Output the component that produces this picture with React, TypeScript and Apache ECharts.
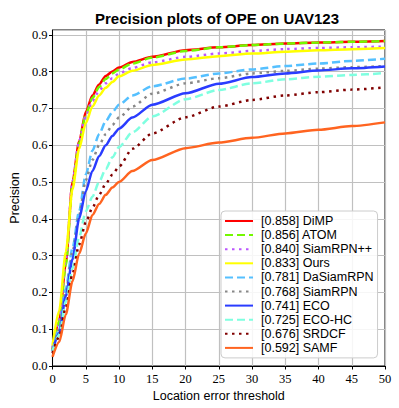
import React, { useEffect, useRef } from "react";
import * as echarts from "echarts";

const thresholds = [0, 1, 2, 3, 4, 5, 6, 7, 8, 9, 10, 12, 15, 20, 25, 30, 35, 40, 45, 50];

const trackerNames = ["DiMP", "ATOM", "SiamRPN++", "Ours", "DaSiamRPN", "SiamRPN", "ECO", "ECO-HC", "SRDCF", "SAMF"];
const trackerScores = [0.858, 0.856, 0.84, 0.833, 0.781, 0.768, 0.741, 0.725, 0.676, 0.592];

const dimp = [0.045, 0.12, 0.28, 0.5, 0.61, 0.69, 0.735, 0.765, 0.788, 0.8, 0.811, 0.826, 0.84, 0.858, 0.866, 0.872, 0.876, 0.879, 0.881, 0.883];
const atom = [0.045, 0.12, 0.275, 0.49, 0.605, 0.683, 0.728, 0.758, 0.78, 0.795, 0.806, 0.822, 0.838, 0.856, 0.866, 0.872, 0.876, 0.879, 0.881, 0.883];
const siamrpnpp = [0.05, 0.13, 0.29, 0.5, 0.61, 0.68, 0.72, 0.748, 0.768, 0.782, 0.795, 0.81, 0.825, 0.84, 0.849, 0.856, 0.861, 0.864, 0.866, 0.868];
const ours = [0.055, 0.15, 0.31, 0.48, 0.59, 0.66, 0.705, 0.735, 0.756, 0.772, 0.787, 0.802, 0.818, 0.833, 0.842, 0.849, 0.854, 0.858, 0.861, 0.864];
const dasiamrpn = [0.04, 0.1, 0.21, 0.32, 0.42, 0.52, 0.585, 0.63, 0.665, 0.69, 0.71, 0.735, 0.76, 0.781, 0.795, 0.806, 0.815, 0.822, 0.829, 0.835];
const siamrpn = [0.04, 0.1, 0.2, 0.31, 0.41, 0.505, 0.56, 0.6, 0.63, 0.655, 0.675, 0.705, 0.74, 0.768, 0.782, 0.795, 0.802, 0.808, 0.812, 0.815];
const eco = [0.04, 0.09, 0.19, 0.29, 0.4, 0.475, 0.53, 0.57, 0.6, 0.625, 0.645, 0.675, 0.71, 0.741, 0.767, 0.785, 0.795, 0.803, 0.809, 0.814];
const ecohc = [0.04, 0.085, 0.175, 0.265, 0.35, 0.42, 0.46, 0.5, 0.535, 0.567, 0.595, 0.635, 0.678, 0.725, 0.75, 0.768, 0.779, 0.786, 0.791, 0.796];
const srdcf = [0.035, 0.08, 0.16, 0.25, 0.33, 0.39, 0.43, 0.465, 0.495, 0.52, 0.542, 0.59, 0.632, 0.676, 0.705, 0.723, 0.735, 0.744, 0.751, 0.757];
const samf = [0.025, 0.065, 0.14, 0.23, 0.305, 0.36, 0.41, 0.44, 0.465, 0.485, 0.5, 0.53, 0.56, 0.592, 0.607, 0.62, 0.632, 0.642, 0.652, 0.662];

const seriesValues = [dimp, atom, siamrpnpp, ours, dasiamrpn, siamrpn, eco, ecohc, srdcf, samf];

const colors = ["#ff0000", "#74f800", "#bb55ff", "#ffff00", "#55c0ff", "#888888", "#2a3cff", "#7fffe0", "#800000", "#ff6420"];
const DASH = [8, 4];
const DOT = [2.5, 4.5];
const lineTypes: any[] = ["solid", DASH, DOT, "solid", DASH, DOT, "solid", DASH, DOT, "solid"];

const SANS = "Liberation Sans";
const SERIF = "Liberation Serif";

export default function App() {
  const ref = useRef<HTMLDivElement>(null);
  useEffect(() => {
    if (!ref.current) return;
    const chart = echarts.init(ref.current, undefined, { renderer: "svg" });
    const names = trackerNames.map((n, i) => `[${trackerScores[i].toFixed(3)}] ${n}`);
    const option: any = {
      animation: false,
      backgroundColor: "#ffffff",
      graphic: [
        {
          type: "text",
          x: 217,
          y: 18,
          style: {
            text: "Precision plots of OPE on UAV123",
            textAlign: "center",
            textVerticalAlign: "middle",
            font: `bold 15px "${SANS}"`,
            fill: "#000",
          },
        },
      ],
      grid: {
        left: 49,
        right: 14,
        top: 30,
        bottom: 42,
        show: true,
        borderColor: "#000",
        borderWidth: 1,
        backgroundColor: "transparent",
      },
      xAxis: {
        type: "value",
        min: 0,
        max: 50,
        interval: 5,
        name: "Location error threshold",
        nameLocation: "middle",
        nameGap: 23,
        nameTextStyle: { fontFamily: SANS, fontSize: 12.5, color: "#000" },
        axisLine: { show: true, lineStyle: { color: "#000", width: 1 } },
        axisTick: { show: true, inside: false, length: 3.5, lineStyle: { color: "#000" } },
        axisLabel: { fontFamily: SERIF, fontSize: 12.5, color: "#000", margin: 6 },
        splitLine: { show: true, lineStyle: { color: "#c0c0c0", width: 1.2 } },
      },
      yAxis: {
        type: "value",
        min: 0,
        max: 0.913,
        interval: 0.1,
        name: "Precision",
        nameLocation: "middle",
        nameGap: 31,
        nameTextStyle: { fontFamily: SANS, fontSize: 12.5, color: "#000" },
        axisLine: { show: true, lineStyle: { color: "#000", width: 1 } },
        axisTick: { show: true, inside: false, length: 3.5, lineStyle: { color: "#000" } },
        axisLabel: {
          fontFamily: SERIF,
          fontSize: 12.5,
          color: "#000",
          margin: 5,
          showMaxLabel: false,
          formatter: (v: number) => v.toFixed(1),
        },
        splitLine: { show: true, lineStyle: { color: "#c0c0c0", width: 1.2 } },
      },
      legend: {
        orient: "vertical",
        left: 221,
        top: 211,
        itemWidth: 28,
        itemHeight: 14,
        itemGap: 0.1,
        padding: [3, 4, 3, 3],
        backgroundColor: "rgba(255,255,255,0.85)",
        borderColor: "#cccccc",
        borderWidth: 1,
        borderRadius: 4,
        selectedMode: false,
        itemStyle: { opacity: 0, borderWidth: 0 },
        textStyle: { fontFamily: SANS, fontSize: 12.5, color: "#000", lineHeight: 14, padding: [0, 0, 0, 3] },
        data: names,
      },
      series: seriesValues.map((vals, i) => ({
        name: names[i],
        type: "line",
        symbol: "none",
        showSymbol: false,
        smooth: 0.25,
        smoothMonotone: "x",
        lineStyle: { color: colors[i], width: 2.5, type: lineTypes[i], cap: "butt" },
        itemStyle: { color: colors[i] },
        data: thresholds.map((t, j) => [t, vals[j]]),
      })),
    };
    chart.setOption(option);
    return () => chart.dispose();
  }, []);
  return <div ref={ref} style={{ position: "absolute", left: 0, top: 0, width: 399, height: 408 }} />;
}
